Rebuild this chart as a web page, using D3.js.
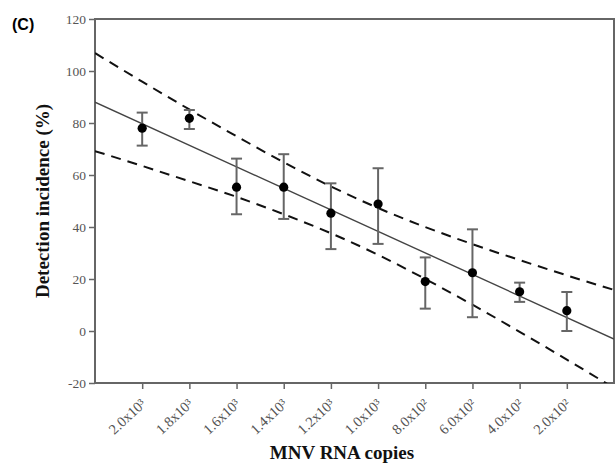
<!DOCTYPE html>
<html>
<head>
<meta charset="utf-8">
<script src="https://cdn.jsdelivr.net/npm/d3@7"></script>
<style>
  body { margin: 0; background: #fff; }
  svg { display: block; }
</style>
</head>
<body>
<div id="chart"></div>
<script>
// copies (x), mean detection incidence and error bar ends
var copies = [2000, 1800, 1600, 1400, 1200, 1000, 800, 600, 400, 200];
var incidence = [78.0, 81.8, 55.3, 55.3, 45.3, 48.8, 19.0, 22.4, 15.1, 7.8];
var errHigh = [84.0, 85.0, 66.3, 68.0, 56.8, 62.6, 28.3, 39.1, 18.6, 15.0];
var errLow = [71.3, 77.7, 44.9, 43.1, 31.5, 33.5, 8.6, 5.3, 11.2, 0.0];

var tickLabels = ["2.0x10\u00b3", "1.8x10\u00b3", "1.6x10\u00b3", "1.4x10\u00b3", "1.2x10\u00b3",
                  "1.0x10\u00b3", "8.0x10\u00b2", "6.0x10\u00b2", "4.0x10\u00b2", "2.0x10\u00b2"];
var yTicks = [-20, 0, 20, 40, 60, 80, 100, 120];

// regression line end points and the 95% band
var fitX = [2200, 0];
var fitY = [88.0, -3.1];
var bandX = [2200, 2000, 1800, 1600, 1400, 1200, 1000, 800, 600, 400, 200, 0];
var bandUpper = [106.9, 95.9, 85.2, 74.9, 64.9, 55.6, 47.3, 40.0, 33.4, 27.3, 21.4, 15.8];
var bandLower = [69.2, 63.5, 57.6, 51.6, 44.9, 37.6, 29.3, 20.0, 10.1, -0.3, -11.0, -21.9];

var W = 615, H = 466;
var margin = {top: 19, right: 1, bottom: 83, left: 95};
var width = W - margin.left - margin.right,
    height = H - margin.top - margin.bottom;

var svg = d3.select("#chart").append("svg")
    .attr("width", W)
    .attr("height", H);

var g = svg.append("g")
    .attr("transform", "translate(" + margin.left + "," + margin.top + ")");

var x = d3.scaleLinear().domain([2200, 0]).range([0, width]);
var y = d3.scaleLinear().domain([-20, 120]).range([height, 0]);

svg.append("clipPath").attr("id", "plotclip")
  .append("rect").attr("width", width).attr("height", height);

var axisColor = "#666";

// y axis
var yAxis = g.append("g")
    .call(d3.axisLeft(y).tickValues(yTicks).tickSize(6)
      .tickFormat(function(d) { return String(d); }));
yAxis.select(".domain").remove();
yAxis.selectAll(".tick line").attr("stroke", axisColor).attr("stroke-width", 1.5);
yAxis.selectAll(".tick text")
    .attr("font-family", "'Liberation Serif', serif")
    .attr("font-size", 13.5)
    .attr("fill", "#555")
    .attr("x", -9);

// x axis
var xAxis = g.append("g")
    .attr("transform", "translate(0," + height + ")")
    .call(d3.axisBottom(x).tickValues(copies).tickSize(6)
      .tickFormat(function(d, i) { return tickLabels[i]; }));
xAxis.select(".domain").remove();
xAxis.selectAll(".tick line").attr("stroke", axisColor).attr("stroke-width", 1.5);
xAxis.selectAll(".tick text")
    .attr("font-family", "'Liberation Serif', serif")
    .attr("font-size", 14.5)
    .attr("fill", "#555")
    .attr("text-anchor", "end")
    .attr("dy", null)
    .attr("y", 0)
    .attr("transform", "translate(4,22) rotate(-43)");

// frame
g.append("rect")
    .attr("width", width)
    .attr("height", height)
    .attr("fill", "none")
    .attr("stroke", axisColor)
    .attr("stroke-width", 2);

var plot = g.append("g").attr("clip-path", "url(#plotclip)");

// regression line
plot.append("line")
    .attr("x1", x(fitX[0])).attr("y1", y(fitY[0]))
    .attr("x2", x(fitX[1])).attr("y2", y(fitY[1]))
    .attr("stroke", "#444")
    .attr("stroke-width", 1.4);

// confidence band
var band = d3.line()
    .x(function(d) { return x(d[0]); })
    .y(function(d) { return y(d[1]); })
    .curve(d3.curveMonotoneX);

[bandUpper, bandLower].forEach(function(vals) {
  plot.append("path")
      .datum(bandX.map(function(v, i) { return [v, vals[i]]; }))
      .attr("d", band)
      .attr("fill", "none")
      .attr("stroke", "#111")
      .attr("stroke-width", 2)
      .attr("stroke-dasharray", "10,7");
});

// error bars
var bars = plot.selectAll(".err")
    .data(copies)
    .enter().append("g")
    .attr("class", "err");

bars.append("line")
    .attr("x1", function(d) { return x(d); })
    .attr("x2", function(d) { return x(d); })
    .attr("y1", function(d, i) { return y(errLow[i]); })
    .attr("y2", function(d, i) { return y(errHigh[i]); })
    .attr("stroke", "#666")
    .attr("stroke-width", 2);

bars.append("line")
    .attr("x1", function(d) { return x(d) - 5.5; })
    .attr("x2", function(d) { return x(d) + 5.5; })
    .attr("y1", function(d, i) { return y(errHigh[i]); })
    .attr("y2", function(d, i) { return y(errHigh[i]); })
    .attr("stroke", "#666")
    .attr("stroke-width", 2);

bars.append("line")
    .attr("x1", function(d) { return x(d) - 5.5; })
    .attr("x2", function(d) { return x(d) + 5.5; })
    .attr("y1", function(d, i) { return y(errLow[i]); })
    .attr("y2", function(d, i) { return y(errLow[i]); })
    .attr("stroke", "#666")
    .attr("stroke-width", 2);

// means
plot.selectAll(".dot")
    .data(copies)
    .enter().append("circle")
    .attr("class", "dot")
    .attr("cx", function(d) { return x(d); })
    .attr("cy", function(d, i) { return y(incidence[i]); })
    .attr("r", 4.6)
    .attr("fill", "#000");

// titles
svg.append("text")
    .attr("transform", "translate(49," + (margin.top + height / 2) + ") rotate(-90)")
    .attr("text-anchor", "middle")
    .attr("font-family", "'Liberation Serif', serif")
    .attr("font-weight", "bold")
    .attr("font-size", 19)
    .attr("fill", "#111")
    .text("Detection incidence (%)");

svg.append("text")
    .attr("x", 342)
    .attr("y", 459)
    .attr("text-anchor", "middle")
    .attr("font-family", "'Liberation Serif', serif")
    .attr("font-weight", "bold")
    .attr("font-size", 19)
    .attr("fill", "#111")
    .text("MNV RNA copies");

svg.append("text")
    .attr("x", 12)
    .attr("y", 30)
    .attr("font-family", "'Liberation Sans', Arial, sans-serif")
    .attr("font-weight", "bold")
    .attr("font-size", 16)
    .attr("fill", "#000")
    .text("(C)");
</script>
</body>
</html>
